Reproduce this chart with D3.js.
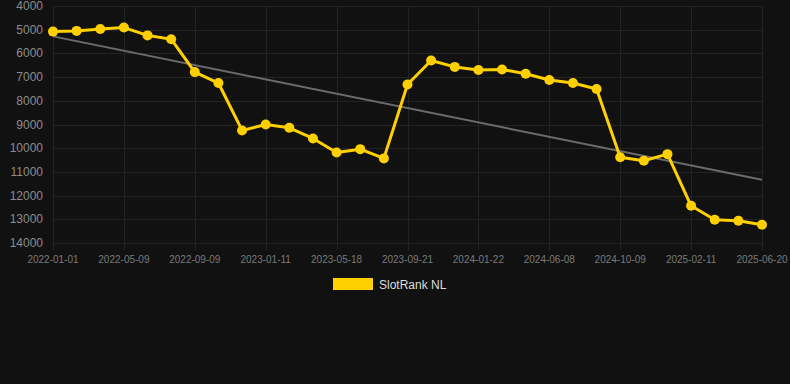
<!DOCTYPE html>
<html lang="en">
<script src="https://d3js.org/d3.v7.min.js"></script>
<style>
    body {margin: 0; background: #111111;}
    svg {display: block; font-family: "Liberation Sans", Arial, sans-serif;}
    .grid line {stroke: #232323; stroke-width: 1;}
    .ylab text {fill: #8c8c8c; font-size: 12px; text-anchor: end;}
    .xlab text {fill: #7a7a7a; font-size: 10px; text-anchor: middle;}
    .legend text {fill: #dddddd; font-size: 12px;}
</style>
<body>
    <svg width="790" height="384"></svg>
</body>
<script>
    var dates = [
        "2022-01-01","2022-02-12","2022-03-26","2022-05-09","2022-06-19","2022-07-30",
        "2022-09-09","2022-10-20","2022-12-01","2023-01-11","2023-02-22","2023-04-05",
        "2023-05-18","2023-06-29","2023-08-10","2023-09-21","2023-11-01","2023-12-12",
        "2024-01-22","2024-03-05","2024-04-20","2024-06-08","2024-07-19","2024-08-29",
        "2024-10-09","2024-11-20","2024-12-31","2025-02-11","2025-03-26","2025-05-08",
        "2025-06-20"
    ];
    var ranks = [
        5080, 5050, 4970, 4910, 5240, 5400,
        6790, 7250, 9250, 9000, 9140, 9590,
        10180, 10040, 10430, 7310, 6300, 6570,
        6700, 6680, 6860, 7120, 7250, 7500,
        10380, 10530, 10250, 12430, 13020, 13060,
        13230
    ];
    var yTicks = [4000, 5000, 6000, 7000, 8000, 9000, 10000, 11000, 12000, 13000, 14000];
    var seriesName = "SlotRank NL";

    var svg = d3.select("svg");
    var plotL = 53, plotR = 762, plotT = 6, plotB = 243;

    var x = d3.scalePoint().domain(dates).range([plotL, plotR]);
    var y = d3.scaleLinear().domain([4000, 14000]).range([plotT, plotB]);

    var labelDates = dates.filter(function(d, i){ return i % 3 === 0; });

    var grid = svg.append("g").attr("class", "grid");
    grid.selectAll(".h").data(yTicks).enter().append("line")
        .attr("x1", plotL).attr("x2", plotR)
        .attr("y1", function(d){ return Math.round(y(d)) + 0.5; })
        .attr("y2", function(d){ return Math.round(y(d)) + 0.5; });
    grid.selectAll(".v").data(labelDates).enter().append("line")
        .attr("x1", function(d){ return Math.round(x(d)) + 0.5; })
        .attr("x2", function(d){ return Math.round(x(d)) + 0.5; })
        .attr("y1", plotT).attr("y2", plotB + 7);

    svg.append("g").attr("class", "ylab").selectAll("text").data(yTicks).enter().append("text")
        .attr("x", 43).attr("y", function(d){ return y(d) + 4; })
        .text(function(d){ return d; });

    svg.append("g").attr("class", "xlab").selectAll("text").data(labelDates).enter().append("text")
        .attr("x", function(d){ return x(d); }).attr("y", 263)
        .text(function(d){ return d; });

    // trend line (least squares over the points)
    var n = ranks.length;
    var mx = d3.mean(ranks, function(d, i){ return i; });
    var my = d3.mean(ranks);
    var sxy = d3.sum(ranks, function(d, i){ return (i - mx) * (d - my); });
    var sxx = d3.sum(ranks, function(d, i){ return (i - mx) * (i - mx); });
    var slope = sxy / sxx, icpt = my - slope * mx;
    svg.append("line")
        .attr("x1", x(dates[0])).attr("y1", y(icpt))
        .attr("x2", x(dates[n - 1])).attr("y2", y(icpt + slope * (n - 1)))
        .attr("stroke", "#6b6b6b").attr("stroke-width", 2);

    var line = d3.line()
        .x(function(d, i){ return x(dates[i]); })
        .y(function(d){ return y(d); });

    svg.append("path").datum(ranks)
        .attr("d", line)
        .attr("fill", "none")
        .attr("stroke", "#ffd000")
        .attr("stroke-width", 3)
        .attr("stroke-linejoin", "round");

    svg.append("g").selectAll("circle").data(ranks).enter().append("circle")
        .attr("cx", function(d, i){ return x(dates[i]); })
        .attr("cy", function(d){ return y(d); })
        .attr("r", 5)
        .attr("fill", "#ffd000");

    var legend = svg.append("g").attr("class", "legend");
    legend.append("rect").attr("x", 333).attr("y", 278).attr("width", 40).attr("height", 12)
        .attr("fill", "#ffd000");
    legend.append("text").attr("x", 379).attr("y", 289).text(seriesName);
</script>
</html>
